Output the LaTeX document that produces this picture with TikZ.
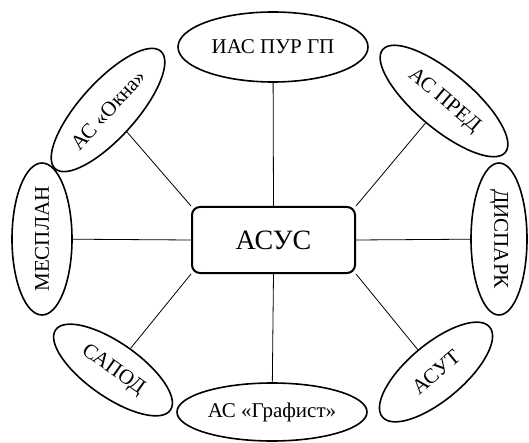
\documentclass[tikz,border=0pt]{standalone}
\usepackage{fontspec}
\setmainfont{Liberation Serif}
\usetikzlibrary{shapes.geometric,backgrounds}
\tikzset{
  oval/.style={ellipse, draw, line width=1.6pt, fill=white, inner sep=0pt,
    font=\fontsize{21}{25}\selectfont},
  centerbox/.style={rectangle, rounded corners=8pt, draw, line width=2pt, fill=white,
    minimum width=163pt, minimum height=66pt, font=\fontsize{28}{32}\selectfont},
  link/.style={line width=0.8pt}
}
\begin{document}
\begin{tikzpicture}[x=1pt,y=-1pt]
\useasboundingbox (0,0) rectangle (529,443);
\node[centerbox] (asus) at (273.5,240) {АСУС};
\node[oval, minimum width=190pt, minimum height=70pt] (ias) at (273,47) {ИАС ПУР ГП};
\node[oval, minimum width=190pt, minimum height=58pt] (graf) at (272,412) {АС «Графист»};
\node[oval, rotate=90, minimum width=152pt, minimum height=60pt] (mesp) at (42,239) {МЕСПЛАН};
\node[oval, rotate=-90, minimum width=152pt, minimum height=56pt] (disp) at (499,239) {ДИСПАРК};
\node[oval, rotate=48, minimum width=158pt, minimum height=56pt] (okna) at (108,110) {АС «Окна»};
\node[oval, rotate=-40, minimum width=160pt, minimum height=56pt] (pred) at (444,101) {АС ПРЕД};
\node[oval, rotate=-35, minimum width=140pt, minimum height=54pt] (sapod) at (113,370) {САПОД};
\node[oval, rotate=40, minimum width=140pt, minimum height=56pt] (asut) at (436,372) {АСУТ};
\begin{pgfonlayer}{background}
\draw[link] (asus.north) -- (ias);
\draw[link] (asus.south) -- (graf);
\draw[link] (asus.west) -- (mesp);
\draw[link] (asus.east) -- (disp);
\draw[link] (asus.north west) -- (okna);
\draw[link] (asus.north east) -- (pred);
\draw[link] (asus.south west) -- (sapod);
\draw[link] (asus.south east) -- (asut);
\end{pgfonlayer}
\end{tikzpicture}
\end{document}
